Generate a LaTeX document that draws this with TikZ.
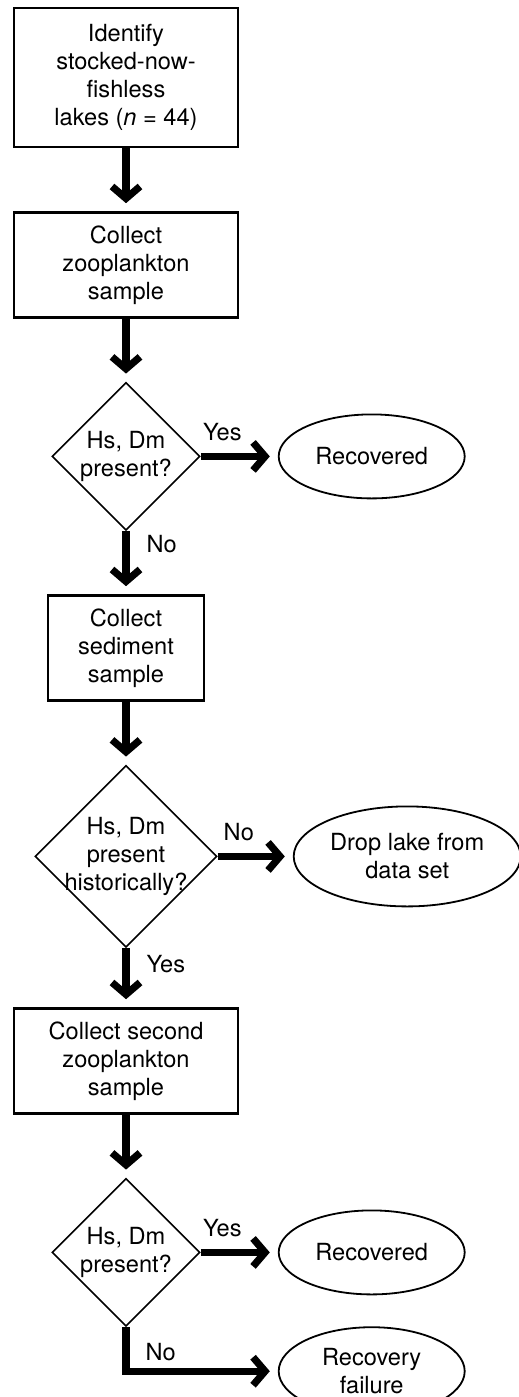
\documentclass[tikz,border=0pt]{standalone}
\usepackage{fontspec}
\setmainfont{TeX Gyre Heros}
\usetikzlibrary{positioning,shapes.geometric,arrows.meta}

\begin{document}
\begin{tikzpicture}[
      >={Straight Barb[length=6pt,width=14pt]}, node distance=31.5pt and 38.5pt,
      font=\fontsize{11.8}{14}\selectfont,
      flow/.style={line width=3.6pt,shorten >=4pt},
      box/.style={draw,line width=1.2pt,align=center,inner sep=0pt,minimum width=112pt,minimum height=52.5pt},
      dia/.style={draw,diamond,aspect=1,line width=0.8pt,align=center,inner sep=-3pt,minimum size=74pt},
      res/.style={draw,ellipse,line width=0.9pt,align=center,inner sep=0pt,minimum width=93pt,minimum height=42pt},
      lbl/.style={inner sep=1pt},
    ]
    \useasboundingbox (0,0) rectangle (259.5pt,-698.5pt);
    \node[box,minimum height=69.5pt] (ident) at (63pt,-38.75pt) {Identify\\stocked-now-\\fishless\\lakes (\textit{n} = 44)};
  \node[box, below=of ident] (zoo) {Collect\\zooplankton\\sample};
  \node[dia, below=of zoo] (pres) {Hs, Dm\\present?};
  \node[box, below=of pres, minimum width=78pt] (sed) {Collect\\sediment\\sample};
  \node[dia, below=of sed, minimum size=91pt] (hist) {Hs, Dm\\present\\historically?};
  \node[box, below=29.5pt of hist] (zootwo) {Collect second\\zooplankton\\sample};
  \node[dia, below=of zootwo] (prestwo) {Hs, Dm\\present?};
  \node[res, right=of pres] (rec) {Recovered};
  \node[res, right=37.5pt of hist, minimum width=113.5pt, minimum height=50pt] (drop) {Drop lake from\\data set};
  \node[res, right=of prestwo] (rectwo) {Recovered};
  \node[res, below=15.5pt of rectwo, minimum height=44pt] (fail) {Recovery\\failure};
  \draw[flow,->] (ident) -- (zoo);
  \draw[flow,->] (zoo) -- (pres);
  \draw[flow,->] (pres) -- node[lbl,pos=0.28,above=5pt]{Yes} (rec);
  \draw[flow,->] (pres) -- node[lbl,pos=0.2,right=7.5pt]{No} (sed);
  \draw[flow,->] (sed) -- (hist);
  \draw[flow,->] (hist) -- node[lbl,pos=0.28,above=5pt]{No} (drop);
  \draw[flow,->] (hist) -- node[lbl,pos=0.27,right=7.5pt]{Yes} (zootwo);
  \draw[flow,->] (zootwo) -- (prestwo);
  \draw[flow,->] (prestwo) -- node[lbl,pos=0.28,above=5pt]{Yes} (rectwo);
  \draw[flow,->] (prestwo.south) |- node[lbl,pos=0.28,right=7pt]{No} (fail.west);
\end{tikzpicture}
\end{document}
